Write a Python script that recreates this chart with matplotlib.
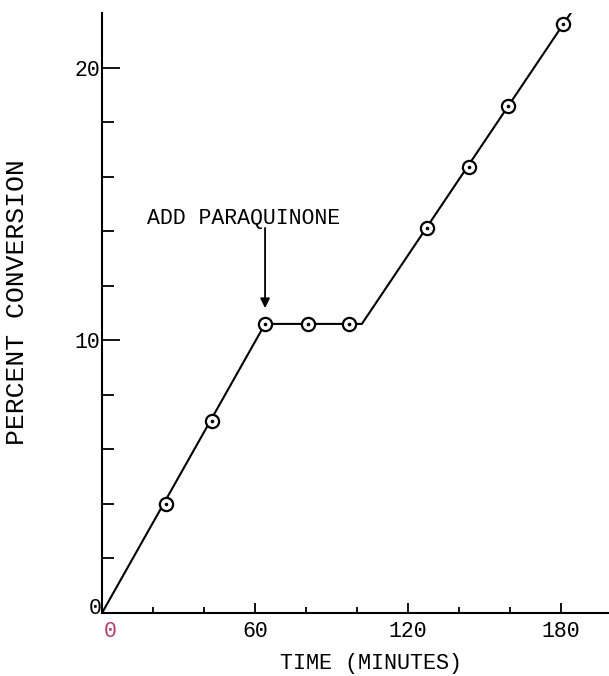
import matplotlib
matplotlib.use('Agg')
import matplotlib.pyplot as plt
import matplotlib.ticker as ticker

# Measured points (time in minutes, percent conversion).
time_pts = [25, 43, 64, 81, 97, 127.5, 144, 159.5, 181]
conv_pts = [4.0, 7.05, 10.6, 10.6, 10.6, 14.1, 16.35, 18.6, 21.6]

# Hand-drawn fit line through the points.
line_t = [0, 64, 102, 184]
line_c = [0, 10.6, 10.6, 22.0]

# Tick positions and labels.
x_major = [60, 120, 180]
x_minor = [20, 40, 80, 100, 140, 160]
y_major = [10, 20]
y_minor = [2, 4, 6, 8, 12, 14, 16, 18]

font = 'Liberation Mono'

fig = plt.figure(figsize=(6.09, 6.76), dpi=100)
ax = fig.add_axes([102 / 609, 63 / 676, 1 - 102 / 609, 600 / 676])

# Fit line.
ax.plot(line_t, line_c, color='black', linewidth=1.5, solid_joinstyle='miter', zorder=2)
# Open circles with a dot in the middle.
ax.plot(time_pts, conv_pts, 'o', markersize=9.5, markerfacecolor='white',
        markeredgecolor='black', markeredgewidth=1.6, zorder=3)
ax.plot(time_pts, conv_pts, 'o', markersize=1.6, color='black', zorder=4)

ax.set_xlim(0, 199)
ax.set_ylim(0, 22.0)

# Only left and bottom spines.
ax.spines['right'].set_visible(False)
ax.spines['top'].set_visible(False)
ax.spines['left'].set_linewidth(1.5)
ax.spines['bottom'].set_linewidth(1.5)

# Inward ticks.
ax.xaxis.set_major_locator(ticker.FixedLocator(x_major))
ax.xaxis.set_minor_locator(ticker.FixedLocator(x_minor))
ax.yaxis.set_major_locator(ticker.FixedLocator(y_major))
ax.yaxis.set_minor_locator(ticker.FixedLocator(y_minor))
ax.tick_params(axis='x', which='major', direction='in', length=7, width=1.3, pad=6,
               labelsize=15.5)
ax.tick_params(axis='x', which='minor', direction='in', length=4.5, width=1.3)
ax.tick_params(axis='y', which='major', direction='in', length=13, width=1.3, pad=1,
               labelsize=15.5)
ax.tick_params(axis='y', which='minor', direction='in', length=8.5, width=1.3)
for lab in ax.get_xticklabels() + ax.get_yticklabels():
    lab.set_fontfamily(font)

# Zero labels at the origin.
ax.annotate('0', (0, 0), xytext=(6, -5.5), textcoords='offset points',
            ha='center', va='top', fontsize=15.5, family=font, color='#b04070')
ax.annotate('0', (0, 0), xytext=(-5, 3), textcoords='offset points',
            ha='center', va='center', fontsize=15.5, family=font)

# Axis labels.
fig.text(371 / 609, 1 - 663 / 676, 'TIME (MINUTES)', ha='center', va='center',
         fontsize=15.7, family=font)
fig.text(17 / 609, 1 - 302 / 676, 'PERCENT CONVERSION', rotation=90, ha='center',
         va='center', fontsize=19, family=font)

# Annotation text and vertical arrow.
ax.text(55.75, 14.48, 'ADD PARAQUINONE', ha='center', va='center',
        fontsize=15.5, family=font)
ax.annotate('', xy=(64, 11.18), xytext=(64, 14.12),
            arrowprops=dict(arrowstyle='-|>', color='black', lw=1.3,
                            mutation_scale=14, shrinkA=0, shrinkB=0))

fig.savefig('out.png', dpi=100)
